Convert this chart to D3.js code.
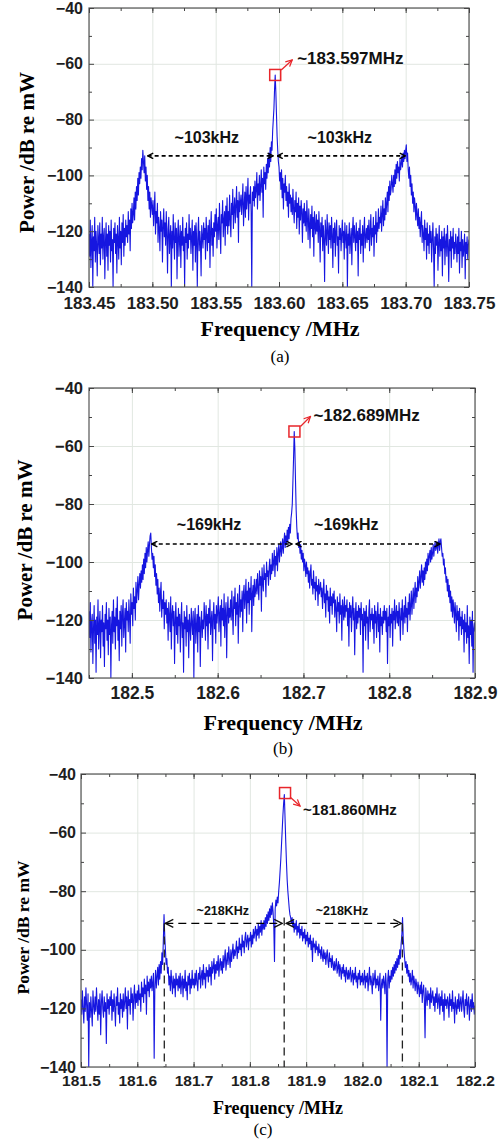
<!DOCTYPE html>
<html>
<head>
<meta charset="utf-8">
<script src="https://cdnjs.cloudflare.com/ajax/libs/d3/7.8.5/d3.min.js"></script>
<style>
  body { margin: 0; background: #fff; }
</style>
</head>
<body>
<svg id="chart" width="504" height="1144"></svg>
<script>
// Three RF spectra, dB re mW

const yTicks = [-140, -120, -100, -80, -60, -40];

// ---- panel (a): one value every 0.0005 MHz from 183.45
const a_freqStart = 183.45;
const a_freqStep = 0.0005;
const a_power = [
  -121,-129,-116,-133,-124,-118,-140,-122,-127,-115,-131,-120,-125,-136,-118,-123,-128,-117,-132,-121,
  -126,-115,-130,-122,-119,-137,-124,-117,-129,-121,-134,-118,-125,-120,-131,-116,-127,-123,-140,-119,
  -124,-117,-128,-121,-135,-118,-123,-130,-115,-126,-120,-132,-117,-124,-114,-129,-119,-125,-116,-122,
  -118,-124,-113,-121,-116,-127,-112,-119,-110,-117,-114,-108,-116,-106,-112,-104,-109,-101,-107,-99,
  -103,-97,-101,-94,-98,-91,-95,-99,-93,-102,-97,-105,-100,-109,-104,-112,-106,-115,-108,-111,
  -114,-109,-118,-112,-106,-121,-113,-117,-110,-124,-115,-119,-127,-113,-120,-116,-131,-118,-112,-122,
  -117,-125,-113,-121,-135,-119,-115,-128,-122,-118,-140,-120,-126,-114,-123,-130,-117,-124,-119,-137,
  -121,-116,-129,-123,-118,-133,-120,-125,-115,-127,-122,-140,-119,-124,-117,-130,-121,-126,-114,-123,
  -119,-128,-122,-116,-134,-120,-125,-118,-131,-117,-123,-140,-121,-115,-127,-120,-124,-136,-118,-122,
  -126,-117,-123,-119,-130,-115,-121,-127,-118,-124,-116,-133,-120,-113,-125,-119,-129,-117,-122,-114,
  -120,-112,-126,-118,-115,-123,-110,-119,-128,-114,-117,-109,-122,-116,-113,-125,-111,-118,-108,-121,
  -113,-118,-107,-116,-122,-110,-114,-105,-119,-112,-108,-117,-111,-104,-115,-109,-124,-106,-113,-110,
  -107,-114,-109,-103,-118,-111,-106,-115,-104,-112,-108,-101,-116,-107,-110,-104,-113,-140,-106,-109,
  -104,-111,-102,-108,-105,-99,-112,-103,-107,-100,-109,-104,-98,-106,-101,-115,-97,-103,-99,-105,
  -96,-101,-94,-99,-92,-97,-90,-95,-88,-91,-84,-80,-76,-69,-64,-70,-78,-86,-91,-95,
  -97,-102,-99,-105,-98,-108,-101,-112,-103,-106,-100,-109,-104,-111,-106,-115,-103,-110,-107,-113,
  -108,-114,-105,-112,-117,-109,-113,-106,-119,-110,-115,-108,-121,-111,-116,-109,-113,-124,-112,-117,
  -110,-118,-113,-120,-109,-116,-123,-112,-117,-126,-114,-119,-111,-122,-115,-129,-113,-118,-121,-114,
  -120,-116,-124,-113,-119,-131,-117,-122,-115,-127,-118,-123,-138,-116,-121,-125,-114,-120,-128,-117,
  -123,-118,-126,-115,-121,-133,-119,-124,-117,-129,-120,-116,-125,-122,-135,-118,-123,-119,-127,-121,
  -116,-124,-120,-130,-117,-122,-126,-118,-140,-121,-125,-117,-128,-123,-119,-132,-120,-115,-124,-118,
  -122,-127,-117,-124,-120,-136,-119,-123,-116,-128,-121,-125,-118,-131,-120,-115,-126,-122,-119,-124,
  -118,-123,-116,-127,-120,-114,-125,-119,-122,-115,-129,-118,-121,-113,-124,-117,-120,-112,-119,-115,
  -117,-111,-120,-114,-109,-118,-112,-116,-108,-114,-110,-106,-113,-104,-109,-102,-107,-105,-100,-103,
  -106,-100,-104,-98,-103,-96,-101,-95,-99,-97,-102,-94,-98,-96,-93,-97,-92,-95,-91,-94,
  -91,-89,-95,-92,-98,-101,-97,-104,-100,-107,-103,-110,-106,-113,-108,-111,-116,-110,-114,-118,
  -112,-119,-115,-122,-117,-113,-124,-118,-121,-127,-116,-123,-119,-130,-117,-125,-121,-128,-118,-124,
  -120,-131,-123,-117,-126,-140,-122,-128,-119,-125,-121,-134,-124,-118,-129,-123,-127,-120,-136,-122,
  -126,-119,-132,-124,-121,-129,-118,-125,-138,-123,-127,-120,-133,-122,-126,-119,-130,-124,-128,-121,
  -125,-131,-122,-128,-119,-135,-124,-127,-120,-133,-123,-129,-126,-121,-137,-124,-128,-122,-130,-125,
  -123
];
const a_xTicks = [183.45, 183.50, 183.55, 183.60, 183.65, 183.70, 183.75];
const a_peaks = [183.4955, 183.597, 183.7005];
const a_marker = [183.597, -64];
const a_spanLabels = [183.543, 183.648];
const a_spanText = "~103kHz";
const a_centerText = "~183.597MHz";

// ---- panel (b): one value every 0.00075 MHz from 182.45
const b_freqStart = 182.45;
const b_freqStep = 0.00075;
const b_power = [
  -117,-126,-114,-131,-121,-118,-135,-123,-115,-128,-120,-138,-119,-125,-113,-130,-122,-117,-133,-120,
  -124,-115,-129,-121,-136,-118,-123,-114,-127,-120,-132,-116,-125,-119,-140,-122,-117,-128,-113,-124,
  -119,-130,-116,-122,-112,-127,-120,-134,-117,-123,-115,-129,-118,-113,-126,-121,-116,-131,-114,-120,
  -117,-124,-113,-119,-128,-111,-118,-114,-122,-109,-116,-112,-120,-107,-114,-110,-105,-113,-108,-104,
  -109,-103,-107,-101,-106,-99,-104,-97,-102,-95,-100,-96,-93,-98,-94,-91,-90,-95,-99,-97,
  -102,-98,-105,-101,-108,-104,-111,-106,-114,-109,-117,-111,-107,-119,-113,-116,-110,-123,-114,-118,
  -113,-121,-116,-127,-114,-119,-124,-112,-130,-118,-115,-122,-117,-135,-120,-114,-125,-119,-128,-116,
  -122,-118,-131,-120,-114,-126,-121,-138,-117,-123,-119,-129,-115,-124,-120,-133,-118,-122,-127,-116,
  -121,-125,-117,-140,-120,-116,-128,-122,-118,-131,-115,-124,-119,-136,-121,-117,-126,-120,-123,-114,
  -119,-127,-115,-122,-118,-130,-116,-121,-113,-125,-120,-117,-134,-119,-114,-123,-118,-128,-115,-121,
  -117,-112,-124,-118,-115,-129,-113,-120,-116,-122,-111,-126,-117,-114,-133,-118,-112,-121,-116,-119,
  -113,-120,-110,-117,-125,-112,-116,-109,-122,-114,-118,-111,-128,-115,-108,-119,-113,-117,-110,-124,
  -111,-108,-116,-112,-106,-121,-110,-114,-107,-118,-109,-113,-105,-124,-111,-108,-115,-106,-112,-110,
  -106,-111,-104,-109,-113,-103,-108,-105,-117,-102,-107,-110,-101,-106,-104,-112,-100,-105,-103,-108,
  -102,-99,-106,-101,-104,-97,-103,-100,-96,-105,-98,-101,-95,-103,-97,-94,-100,-96,-93,-98,
  -95,-92,-97,-93,-90,-95,-91,-94,-89,-93,-88,-92,-87,-90,-85,-83,-80,-72,-64,-55,
  -61,-72,-82,-88,-92,-90,-95,-93,-97,-94,-99,-96,-100,-97,-103,-99,-101,-105,-100,-104,
  -102,-107,-103,-109,-104,-101,-108,-106,-111,-103,-109,-107,-113,-105,-110,-108,-115,-106,-111,-109,
  -107,-112,-109,-116,-110,-106,-114,-111,-119,-108,-113,-110,-117,-112,-121,-109,-115,-112,-118,-111,
  -114,-110,-119,-113,-116,-124,-112,-117,-114,-121,-111,-118,-115,-127,-113,-116,-120,-112,-119,-115,
  -117,-113,-122,-116,-129,-114,-119,-115,-124,-117,-112,-120,-116,-132,-118,-114,-123,-117,-121,-115,
  -119,-116,-125,-114,-120,-118,-138,-116,-122,-117,-127,-115,-121,-119,-130,-117,-113,-124,-118,-120,
  -116,-123,-118,-128,-115,-121,-117,-126,-119,-114,-124,-118,-131,-116,-122,-119,-125,-117,-121,-115,
  -120,-117,-124,-116,-135,-119,-122,-115,-126,-118,-121,-116,-129,-117,-120,-113,-123,-118,-115,-121,
  -117,-122,-114,-119,-127,-116,-120,-113,-125,-118,-115,-121,-112,-119,-116,-124,-114,-118,-111,-120,
  -115,-110,-118,-113,-109,-116,-111,-107,-114,-109,-112,-105,-110,-107,-103,-109,-105,-101,-107,-103,
  -108,-102,-106,-100,-104,-99,-103,-97,-101,-98,-96,-100,-95,-99,-97,-94,-98,-95,-93,-96,
  -95,-93,-97,-94,-92,-96,-93,-92,-95,-98,-97,-101,-99,-104,-102,-107,-105,-110,-106,-112,
  -108,-114,-110,-117,-112,-119,-113,-116,-121,-114,-118,-124,-115,-120,-117,-127,-116,-122,-119,-125,
  -117,-123,-120,-131,-118,-124,-121,-128,-115,-126,-122,-135,-119,-125,-120,-129,-117,-138,-123,-121,
  -124
];
const b_xTicks = [182.5, 182.6, 182.7, 182.8, 182.9];
const b_peaks = [182.522, 182.689, 182.8605];
const b_marker = [182.6895, -55];
const b_spanLabels = [182.59, 182.75];
const b_spanText = "~169kHz";
const b_centerText = "~182.689MHz";

// ---- panel (c): one value every 0.00125 MHz from 181.5
const c_freqStart = 181.5;
const c_freqStep = 0.00125;
const c_power = [
  -117,-122,-114,-120,-125,-116,-121,-113,-119,-124,-115,-140,-118,-123,-116,-121,-126,-114,-119,-122,
  -116,-121,-113,-119,-124,-117,-122,-115,-129,-118,-114,-120,-123,-116,-121,-118,-132,-115,-120,-117,
  -122,-116,-119,-114,-124,-117,-121,-115,-120,-126,-116,-119,-113,-122,-118,-125,-115,-120,-117,-123,
  -115,-121,-118,-113,-120,-116,-127,-114,-119,-117,-122,-113,-118,-115,-124,-116,-112,-120,-115,-118,
  -114,-119,-112,-117,-115,-121,-111,-116,-113,-118,-110,-115,-112,-122,-109,-114,-111,-116,-110,-113,
  -109,-114,-111,-108,-137,-112,-107,-113,-109,-106,-112,-105,-110,-104,-108,-101,-105,-97,-88,-95,
  -100,-105,-103,-108,-106,-112,-109,-114,-107,-111,-115,-109,-113,-110,-116,-108,-112,-110,-114,-109,
  -113,-108,-115,-111,-109,-116,-110,-113,-107,-114,-111,-117,-109,-112,-108,-115,-110,-113,-107,-112,
  -110,-113,-108,-112,-107,-111,-114,-108,-110,-106,-113,-109,-107,-112,-105,-110,-108,-113,-106,-109,
  -107,-111,-105,-109,-106,-112,-104,-108,-106,-103,-110,-105,-108,-104,-107,-102,-109,-105,-103,-107,
  -104,-108,-102,-106,-103,-100,-107,-104,-101,-105,-99,-103,-106,-100,-104,-101,-98,-103,-100,-102,
  -100,-97,-103,-99,-101,-96,-100,-98,-102,-95,-99,-97,-101,-96,-94,-99,-97,-95,-100,-96,
  -97,-94,-99,-95,-98,-93,-96,-94,-92,-97,-93,-95,-91,-96,-92,-94,-90,-95,-91,-93,
  -90,-93,-89,-92,-88,-91,-87,-90,-86,-89,-85,-88,-84,-87,-92,-104,-86,-83,-85,-82,
  -84,-80,-77,-73,-69,-64,-59,-54,-50,-47,-55,-63,-70,-76,-80,-83,-86,-88,-89,-91,
  -89,-92,-90,-94,-91,-93,-90,-95,-92,-94,-91,-96,-93,-95,-92,-97,-94,-96,-93,-98,
  -95,-97,-94,-99,-96,-98,-95,-100,-97,-104,-96,-99,-98,-101,-97,-100,-99,-102,-98,-101,
  -100,-103,-99,-102,-104,-100,-103,-101,-105,-102,-100,-104,-106,-101,-104,-103,-106,-102,-105,-107,
  -104,-107,-105,-103,-108,-106,-104,-109,-105,-107,-110,-106,-108,-105,-109,-107,-111,-106,-108,-110,
  -107,-110,-108,-106,-111,-109,-107,-112,-108,-110,-106,-111,-109,-113,-108,-110,-107,-112,-109,-111,
  -108,-112,-110,-107,-113,-109,-111,-108,-114,-110,-106,-112,-109,-111,-115,-108,-112,-110,-107,-113,
  -110,-112,-109,-114,-111,-108,-124,-112,-110,-113,-109,-111,-115,-108,-112,-140,-110,-107,-113,-109,
  -111,-107,-110,-106,-109,-105,-108,-104,-107,-103,-106,-102,-105,-100,-103,-98,-95,-89,-96,-100,
  -103,-106,-104,-108,-105,-109,-107,-111,-108,-112,-110,-107,-113,-109,-111,-114,-110,-112,-115,-111,
  -113,-116,-112,-115,-111,-118,-114,-112,-117,-130,-113,-116,-119,-114,-117,-115,-120,-113,-118,-116,
  -114,-119,-116,-121,-115,-118,-113,-120,-117,-115,-122,-116,-119,-114,-121,-117,-124,-115,-119,-117,
  -120,-116,-118,-123,-115,-119,-117,-121,-114,-120,-118,-125,-116,-119,-122,-117,-120,-115,-121,-118,
  -116,-121,-118,-114,-120,-123,-117,-119,-115,-122,-118,-116,-124,-119,-117,-121,-115,-120,-118,-122,
  -119
];
const c_xTicks = [181.5, 181.6, 181.7, 181.8, 181.9, 182.0, 182.1, 182.2];
const c_peaks = [181.648, 181.861, 182.071];
const c_marker = [181.8625, -46.5];
const c_spanLabels = [181.752, 181.9636];
const c_spanText = "~218KHz";
const c_centerText = "~181.860MHz";

const SANS = "'Liberation Sans', Arial, sans-serif";
const SERIF = "'Liberation Serif', 'Times New Roman', serif";


class SpectrumPanel {

    constructor(svg, cfg) {
        this.svg = svg;
        this.cfg = cfg;
        this.g = svg.append("g");
        this.xScale = d3.scaleLinear().domain(cfg.xDomain).range([cfg.left, cfg.right]);
        this.yScale = d3.scaleLinear().domain([-140, -40]).range([cfg.bottom, cfg.top]);

        // drawing order matters
        this.draw_grid();
        this.draw_trace();
        this.draw_box();
        this.draw_axes();
        this.draw_titles();
        this.draw_notes();
    }

    draw_grid() {
        let c = this.cfg;
        let h = c.bottom - c.top;
        let w = c.right - c.left;
        let grid = this.g.append("g").attr("class", "grid");
        grid.append("g")
            .attr("transform", "translate(0," + c.bottom + ")")
            .call(d3.axisBottom(this.xScale).tickValues(c.xTicks).tickSize(-h).tickFormat(""));
        grid.append("g")
            .attr("transform", "translate(" + c.left + ",0)")
            .call(d3.axisLeft(this.yScale).tickValues(yTicks).tickSize(-w).tickFormat(""));
        grid.selectAll(".domain").remove();
        grid.selectAll("line").attr("stroke", "#e1e7e1").attr("stroke-width", 1);
    }

    draw_trace() {
        let c = this.cfg;
        let x = this.xScale, y = this.yScale;
        this.svg.select("defs").append("clipPath")
            .attr("id", "clip" + c.id)
            .append("rect")
            .attr("x", c.left).attr("y", c.top)
            .attr("width", c.right - c.left).attr("height", c.bottom - c.top);
        let line = d3.line()
            .x(function(d, i) { return x(c.start + i * c.step); })
            .y(function(d) { return y(d); });
        this.g.append("path")
            .datum(c.power)
            .attr("clip-path", "url(#clip" + c.id + ")")
            .attr("d", line)
            .attr("fill", "none")
            .attr("stroke", "#1616e0")
            .attr("stroke-width", 1.1)
            .attr("stroke-linejoin", "round");
    }

    draw_box() {
        let c = this.cfg;
        this.g.append("rect")
            .attr("x", c.left).attr("y", c.top)
            .attr("width", c.right - c.left).attr("height", c.bottom - c.top)
            .attr("fill", "none")
            .attr("stroke", "#555")
            .attr("stroke-width", 1.2);
    }

    draw_axes() {
        let c = this.cfg;
        let x = this.xScale, y = this.yScale;
        let xMinor = d3.range(c.xDomain[0], c.xDomain[1] + 1e-9, c.xMinor);
        let yMinor = d3.range(-130, -40, 20);
        let axes = this.g.append("g").attr("class", "axes");

        // bottom, with labels
        axes.append("g")
            .attr("transform", "translate(0," + c.bottom + ")")
            .call(d3.axisBottom(x).tickValues(c.xTicks).tickSize(-5).tickPadding(c.xPad)
                .tickFormat(d3.format(c.xFormat)))
            .style("font", "bold " + c.tickFont + "px " + SANS);
        // left, with labels
        axes.append("g")
            .attr("transform", "translate(" + c.left + ",0)")
            .call(d3.axisLeft(y).tickValues(yTicks).tickSize(-5).tickPadding(c.yPad))
            .style("font", "bold " + c.yTickFont + "px " + SANS);
        // top / right, ticks only
        axes.append("g")
            .attr("transform", "translate(0," + c.top + ")")
            .call(d3.axisTop(x).tickValues(c.xTicks).tickSize(-5).tickFormat(""));
        axes.append("g")
            .attr("transform", "translate(" + c.right + ",0)")
            .call(d3.axisRight(y).tickValues(yTicks).tickSize(-5).tickFormat(""));
        // minor ticks
        axes.append("g").attr("transform", "translate(0," + c.bottom + ")")
            .call(d3.axisBottom(x).tickValues(xMinor).tickSize(-3).tickFormat(""));
        axes.append("g").attr("transform", "translate(0," + c.top + ")")
            .call(d3.axisTop(x).tickValues(xMinor).tickSize(-3).tickFormat(""));
        axes.append("g").attr("transform", "translate(" + c.left + ",0)")
            .call(d3.axisLeft(y).tickValues(yMinor).tickSize(-3).tickFormat(""));
        axes.append("g").attr("transform", "translate(" + c.right + ",0)")
            .call(d3.axisRight(y).tickValues(yMinor).tickSize(-3).tickFormat(""));

        axes.selectAll(".domain").remove();
        axes.selectAll("line").attr("stroke", "#444").attr("stroke-width", 1);
        axes.selectAll("text").attr("fill", "#1e1e1e");
    }

    draw_titles() {
        let c = this.cfg;
        let midX = (c.left + c.right) / 2;
        let midY = (c.top + c.bottom) / 2;
        this.g.append("text")
            .attr("x", midX + c.xTitleShift).attr("y", c.xTitleY)
            .attr("dy", "0.35em")
            .attr("text-anchor", "middle")
            .style("font", "bold " + c.titleFont + "px " + SERIF)
            .text("Frequency /MHz");
        this.g.append("text")
            .attr("transform", "translate(" + c.yTitleX + "," + (midY + c.yTitleShift) + ") rotate(-90)")
            .attr("dy", "0.35em")
            .attr("text-anchor", "middle")
            .style("font", "bold " + c.yTitleFont + "px " + SERIF)
            .text("Power /dB re mW");
        this.g.append("text")
            .attr("x", c.captionX).attr("y", c.captionY)
            .attr("dy", "0.35em")
            .attr("text-anchor", "middle")
            .style("font", "17px " + SERIF)
            .text(c.caption);
    }

    draw_notes() {
        let c = this.cfg;
        let x = this.xScale, y = this.yScale;
        let notes = this.g.append("g").attr("class", "notes");
        let ay = y(c.arrowDb);
        let pL = x(c.peaks[0]), pC = x(c.peaks[1]), pR = x(c.peaks[2]);

        // span arrows
        let spans = [[pL + 1, pC - 2], [pC + 2, pR - 1]];
        notes.selectAll("line.span").data(spans).enter().append("line")
            .attr("class", "span")
            .attr("x1", function(d) { return d[0]; })
            .attr("x2", function(d) { return d[1]; })
            .attr("y1", ay).attr("y2", ay)
            .attr("stroke", "#000")
            .attr("stroke-width", c.dashWidth)
            .attr("stroke-dasharray", c.dash)
            .attr("marker-start", "url(#" + c.head + ")")
            .attr("marker-end", "url(#" + c.head + ")");

        if (c.drops) {
            notes.selectAll("line.drop").data(c.peaks).enter().append("line")
                .attr("class", "drop")
                .attr("x1", function(d) { return x(d); })
                .attr("x2", function(d) { return x(d); })
                .attr("y1", function(d, i) { return i === 1 ? ay - 6 : ay; })
                .attr("y2", c.bottom)
                .attr("stroke", "#222")
                .attr("stroke-width", 1.3)
                .attr("stroke-dasharray", "8,5");
        }

        notes.selectAll("text.span").data(c.spanLabels).enter().append("text")
            .attr("class", "span")
            .attr("x", function(d) { return x(d); })
            .attr("y", y(c.labelDb))
            .attr("dy", "0.35em")
            .attr("text-anchor", "middle")
            .attr("fill", "#111")
            .style("font", "bold " + c.spanFont + "px " + SANS)
            .text(c.spanText);

        // red marker on the carrier
        let mx = x(c.marker[0]), my = y(c.marker[1]);
        notes.append("rect")
            .attr("x", mx - 5.5).attr("y", my - 5.5)
            .attr("width", 11).attr("height", 11)
            .attr("fill", "none")
            .attr("stroke", "#e8262b")
            .attr("stroke-width", 1.5);
        notes.append("line")
            .attr("x1", mx + c.redArrow[0]).attr("y1", my + c.redArrow[1])
            .attr("x2", mx + c.redArrow[2]).attr("y2", my + c.redArrow[3])
            .attr("stroke", "#e8262b")
            .attr("stroke-width", 1.3)
            .attr("marker-end", "url(#headRed)");
        notes.append("text")
            .attr("x", mx + c.centerTextAt[0]).attr("y", my + c.centerTextAt[1])
            .attr("dy", "0.35em")
            .attr("fill", "#111")
            .style("font", "bold " + c.centerFont + "px " + SANS)
            .text(c.centerText);
    }
}


// -----------------------------------------------------------------
let svg = d3.select("#chart");
let defs = svg.append("defs");

function add_head(id, size, color, sw) {
    defs.append("marker")
        .attr("id", id)
        .attr("viewBox", "0 0 10 10")
        .attr("refX", 9).attr("refY", 5)
        .attr("markerWidth", size).attr("markerHeight", size)
        .attr("markerUnits", "userSpaceOnUse")
        .attr("orient", "auto-start-reverse")
        .append("path")
        .attr("d", "M1,1 L9,5 L1,9")
        .attr("fill", "none")
        .attr("stroke", color)
        .attr("stroke-width", sw);
}
add_head("headBlack", 7, "#000", 2);
add_head("headOpen", 10, "#111", 1.3);
add_head("headRed", 8, "#e8262b", 1.6);

new SpectrumPanel(svg, {
    id: "a", caption: "(a)",
    left: 89, right: 469, top: 8, bottom: 287,
    xDomain: [183.45, 183.75], xTicks: a_xTicks, xMinor: 0.025, xFormat: ".2f",
    start: a_freqStart, step: a_freqStep, power: a_power,
    tickFont: 17, yTickFont: 16, xPad: 10, yPad: 6,
    titleFont: 22, yTitleFont: 21, xTitleY: 328, xTitleShift: 1, yTitleX: 27, yTitleShift: 5,
    captionX: 280, captionY: 356,
    peaks: a_peaks, arrowDb: -93, labelDb: -86.4, spanLabels: a_spanLabels,
    spanText: a_spanText, spanFont: 16, dash: "4,3", dashWidth: 1.6, head: "headBlack", drops: false,
    marker: a_marker, redArrow: [6, -5, 17, -15], centerTextAt: [22, -17],
    centerText: a_centerText, centerFont: 17
});

new SpectrumPanel(svg, {
    id: "b", caption: "(b)",
    left: 89, right: 475, top: 388, bottom: 678,
    xDomain: [182.45, 182.9], xTicks: b_xTicks, xMinor: 0.05, xFormat: ".1f",
    start: b_freqStart, step: b_freqStep, power: b_power,
    tickFont: 17.5, yTickFont: 16.5, xPad: 9, yPad: 6,
    titleFont: 22, yTitleFont: 21, xTitleY: 722, xTitleShift: 1, yTitleX: 25, yTitleShift: 7,
    captionX: 283, captionY: 748,
    peaks: b_peaks, arrowDb: -93.8, labelDb: -86.9, spanLabels: b_spanLabels,
    spanText: b_spanText, spanFont: 16, dash: "4,3", dashWidth: 1.6, head: "headBlack", drops: false,
    marker: b_marker, redArrow: [6, -5, 16, -15], centerTextAt: [19, -16],
    centerText: b_centerText, centerFont: 17
});

new SpectrumPanel(svg, {
    id: "c", caption: "(c)",
    left: 81, right: 475, top: 774, bottom: 1067,
    xDomain: [181.5, 182.2], xTicks: c_xTicks, xMinor: 0.05, xFormat: ".1f",
    start: c_freqStart, step: c_freqStep, power: c_power,
    tickFont: 15.5, yTickFont: 16, xPad: 8, yPad: 5,
    titleFont: 18, yTitleFont: 17.5, xTitleY: 1108, xTitleShift: 0, yTitleX: 23, yTitleShift: 7,
    captionX: 263, captionY: 1129,
    peaks: c_peaks, arrowDb: -91, labelDb: -86.8, spanLabels: c_spanLabels,
    spanText: c_spanText, spanFont: 12.5, dash: "8,5", dashWidth: 1.3, head: "headOpen", drops: true,
    marker: c_marker, redArrow: [5, 4, 15, 13], centerTextAt: [18, 17],
    centerText: c_centerText, centerFont: 15
});
</script>
</body>
</html>
